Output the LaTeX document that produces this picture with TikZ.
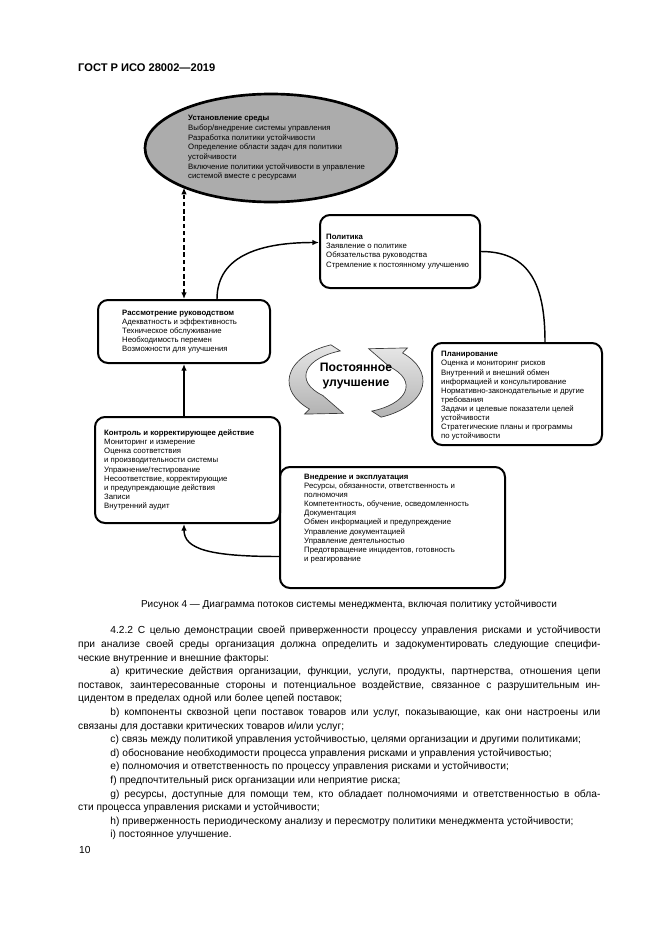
\documentclass[tikz,border=0pt]{standalone}
\usepackage{fontspec}
\setmainfont{Liberation Sans}
\usetikzlibrary{positioning,shapes.geometric,arrows.meta,calc}
\newcommand{\pxu}{0.9pt}
\newcommand{\para}{\par\noindent\hspace*{29pt}}
\tikzstyle{rbox}=[rectangle, rounded corners=9pt, draw=black, line width=1.8pt, inner sep=0pt]
\tikzstyle{ebox}=[ellipse, draw=black, fill=gray!65, line width=2.4pt, inner sep=0pt, minimum width=252*\pxu, minimum height=108*\pxu]
\tikzstyle{tbox}=[right, align=left, inner sep=0pt, font=\fontsize{7}{8.2}\selectfont]
\tikzstyle{pline}=[-, line width=1.3pt]
\tikzstyle{parrow}=[-{Latex[length=6pt,width=5pt]}, line width=1.3pt]
\tikzstyle{darrow}=[{Latex[length=6pt,width=5pt]}-{Latex[length=6pt,width=5pt]}, line width=1.3pt, dash pattern=on 4pt off 2.5pt]
\tikzstyle{carrow}=[draw=gray!45!black, line width=0.6pt, top color=gray!20, bottom color=gray!60]
\begin{document}
\begin{tikzpicture}[x=\pxu, y=-\pxu]
\useasboundingbox (0,0) rectangle (661,935);
\node (HDR) [anchor=base west, inner sep=0pt, font=\bfseries\fontsize{10}{12}\selectfont] at (78,71) {ГОСТ Р ИСО 28002—2019};
% context ellipse
\node (CTX) [ebox] at (271,148) {};
\node [tbox, font=\fontsize{7}{8.7}\selectfont] at ([xshift=-83*\pxu]CTX.center) {\textbf{Установление среды}\\Выбор/внедрение системы управления\\Разработка политики устойчивости\\Определение области задач для политики\\устойчивости\\Включение политики устойчивости в управление\\системой вместе с ресурсами};
% boxes of the cycle
\node (POL) [rbox, minimum width=160*\pxu, minimum height=73*\pxu] at (400,251.5) {};
\node [tbox] at ([xshift=7*\pxu]POL.west) {\textbf{Политика}\\Заявление о политике\\Обязательства руководства\\Стремление к постоянному улучшению};
\node (REV) [rbox, minimum width=172*\pxu, minimum height=63*\pxu] at (184,331.5) {};
\node [tbox] at ([xshift=25*\pxu]REV.west) {\textbf{Рассмотрение руководством}\\Адекватность и эффективность\\Техническое обслуживание\\Необходимость перемен\\Возможности для улучшения};
\node (PLAN) [rbox, minimum width=170*\pxu, minimum height=102*\pxu] at (517,394) {};
\node [tbox] at ([xshift=10*\pxu,yshift=-2*\pxu]PLAN.west) {\textbf{Планирование}\\Оценка и мониторинг рисков\\Внутренний и внешний обмен\\информацией и консультирование\\Нормативно-законодательные и другие\\требования\\Задачи и целевые показатели целей\\устойчивости\\Стратегические планы и программы\\по устойчивости};
\node (CHK) [rbox, minimum width=185*\pxu, minimum height=106*\pxu] at (187.5,470) {};
\node [tbox] at ([xshift=10*\pxu]CHK.west) {\textbf{Контроль и корректирующее действие}\\Мониторинг и измерение\\Оценка соответствия\\и производительности системы\\Упражнение/тестирование\\Несоответствие, корректирующие\\и предупреждающие действия\\Записи\\Внутренний аудит};
\node (IMP) [rbox, minimum width=225*\pxu, minimum height=121*\pxu] at (392.5,527.5) {};
\node [tbox] at ([xshift=25*\pxu,yshift=9*\pxu]IMP.west) {\textbf{Внедрение и эксплуатация}\\Ресурсы, обязанности, ответственность и\\полномочия\\Компетентность, обучение, осведомленность\\Документация\\Обмен информацией и предупреждение\\Управление документацией\\Управление деятельностью\\Предотвращение инцидентов, готовность\\и реагирование};
% connectors
\draw[darrow] (REV.north) -- (REV.north |- CTX.204);
\draw[parrow] ([xshift=33*\pxu]REV.north) .. controls +(0,-45) and +(-55,0) .. ([yshift=9*\pxu]POL.west);
\draw[pline] (POL.east) .. controls +(50,0) and +(0,-55) .. ([xshift=28*\pxu]PLAN.north);
\draw[parrow] ([yshift=-29*\pxu]IMP.west) .. controls +(-70,0) and +(0,25) .. (CHK.south -| REV.south);
\draw[parrow] (REV.south |- CHK.north) -- (REV.south);
% continual improvement arrows
\begin{scope}[shift={(320.4pt,-342.9pt)}, x=\pxu, y=\pxu]
\path[carrow] (112:67 and 39) arc[start angle=112, end angle=226, x radius=67, y radius=39] -- (226:74 and 46) -- (258:61 and 33) -- (226:48 and 20) arc[start angle=226, end angle=112, x radius=55, y radius=27] -- cycle;
\path[carrow] (292:67 and 39) arc[start angle=292, end angle=406, x radius=67, y radius=39] -- (406:74 and 46) -- (438:61 and 33) -- (406:48 and 20) arc[start angle=406, end angle=292, x radius=55, y radius=27] -- cycle;
\end{scope}
\node (CI) [align=center, inner sep=0pt, font=\bfseries\fontsize{11}{14}\selectfont] at (356,376) {Постоянное\\улучшение};
% caption and text
\node (CAP) [inner sep=0pt, font=\fontsize{9}{11}\selectfont] at (349,605) {Рисунок 4 — Диаграмма потоков системы менеджмента, включая политику устойчивости};
\node (BODY) [anchor=north west, inner sep=0pt, text width=470pt, align=justify, font=\fontsize{9.2}{12.25}\selectfont] at (78,626) {%
\noindent\hspace*{29pt}4.2.2 С целью демонстрации своей приверженности процессу управления рисками и устойчивости\linebreak при анализе своей среды организация должна определить и задокументировать следующие специфи-\linebreak ческие внутренние и внешние факторы:
\para a) критические действия организации, функции, услуги, продукты, партнерства, отношения цепи\linebreak поставок, заинтересованные стороны и потенциальное воздействие, связанное с разрушительным ин-\linebreak цидентом в пределах одной или более цепей поставок;
\para b) компоненты сквозной цепи поставок товаров или услуг, показывающие, как они настроены или\linebreak связаны для доставки критических товаров и/или услуг;
\para c) связь между политикой управления устойчивостью, целями организации и другими политиками;
\para d) обоснование необходимости процесса управления рисками и управления устойчивостью;
\para e) полномочия и ответственность по процессу управления рисками и устойчивости;
\para f) предпочтительный риск организации или неприятие риска;
\para g) ресурсы, доступные для помощи тем, кто обладает полномочиями и ответственностью в обла-\linebreak сти процесса управления рисками и устойчивости;
\para h) приверженность периодическому анализу и пересмотру политики менеджмента устойчивости;
\para i) постоянное улучшение.};
\node (PG) [anchor=base west, inner sep=0pt, font=\fontsize{9.2}{12}\selectfont] at (79,853) {10};
\end{tikzpicture}
\end{document}
